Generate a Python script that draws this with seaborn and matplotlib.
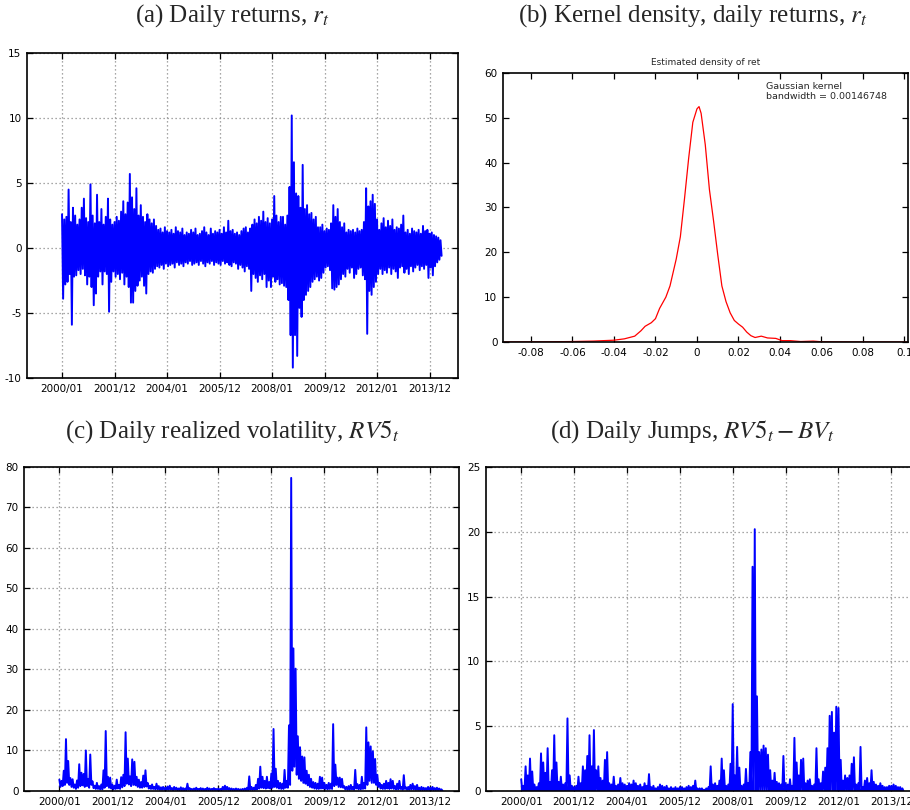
import numpy as np
import pandas as pd
import seaborn as sns
import matplotlib
matplotlib.use("Agg")
import matplotlib.pyplot as plt

# month index 0 = 2000/01 ... 173 = 2014/06 (monthly high / low)
tick_pos = [0, 24, 48, 72, 96, 120, 144, 168]
tick_labels = ["2000/01", "2001/12", "2004/01", "2005/12", "2008/01", "2009/12", "2012/01", "2013/12"]

ret_high = [2.6, 2.2, 2.4, 4.5, 2.0, 3.1, 2.5, 1.8, 2.2, 3.1,
            3.8, 2.3, 2.0, 4.9, 2.5, 1.9, 4.1, 2.0, 3.0, 1.8,
            2.4, 3.8, 2.2, 1.8, 2.0, 2.4, 2.1, 2.8, 3.6, 2.6,
            3.5, 5.7, 3.9, 3.0, 4.6, 2.5, 3.3, 2.4, 2.0, 2.6,
            2.2, 1.9, 2.2, 1.7, 1.4, 1.5, 1.2, 1.6, 1.3, 1.2,
            1.4, 1.1, 1.6, 1.3, 1.2, 1.5, 1.0, 1.2, 1.1, 1.4,
            1.2, 1.5, 1.0, 1.1, 1.3, 1.6, 1.2, 1.0, 1.5, 1.1,
            1.3, 1.2, 1.4, 1.1, 1.6, 1.2, 2.1, 1.3, 1.4, 1.1,
            1.2, 1.0, 1.3, 1.5, 1.6, 1.2, 1.5, 1.8, 2.2, 1.9,
            2.4, 2.1, 2.8, 2.0, 2.3, 1.9, 2.2, 4.0, 2.5, 2.0,
            2.4, 2.4, 1.8, 2.5, 4.7, 10.2, 6.6, 4.2, 4.0, 3.1,
            6.4, 3.0, 3.3, 2.6, 2.7, 2.2, 2.4, 1.6, 1.6, 1.8,
            1.3, 1.5, 1.4, 1.9, 3.3, 2.4, 3.0, 2.0, 1.6, 1.9,
            1.2, 1.4, 1.3, 1.4, 1.2, 1.5, 1.3, 1.4, 2.0, 4.6,
            3.2, 3.6, 4.1, 3.4, 2.2, 1.4, 1.9, 2.3, 1.6, 2.1,
            1.7, 2.2, 1.4, 1.6, 1.5, 1.8, 2.5, 1.2, 1.4, 1.1,
            1.5, 1.3, 1.2, 1.4, 1.1, 1.7, 1.3, 1.4, 1.1, 1.2,
            1.0, 0.9, 0.8, 0.6]
ret_low = [-3.9, -2.8, -2.6, -2.0, -5.9, -2.2, -2.1, -1.7, -2.0, -1.6,
           -2.1, -2.8, -2.2, -3.0, -4.4, -3.5, -2.2, -1.8, -2.8, -1.8,
           -2.0, -4.9, -2.6, -1.8, -2.2, -2.0, -2.4, -1.9, -2.8, -2.2,
           -3.0, -4.2, -4.2, -3.3, -2.9, -2.5, -2.2, -2.9, -3.5, -2.0,
           -1.8, -1.9, -1.6, -1.4, -1.5, -1.3, -1.6, -1.2, -1.4, -1.3,
           -1.2, -1.5, -1.1, -1.3, -1.2, -1.4, -1.1, -1.2, -1.0, -1.3,
           -1.2, -1.1, -1.3, -1.0, -1.2, -1.4, -1.1, -1.2, -1.0, -1.3,
           -1.1, -1.2, -1.3, -1.0, -1.2, -1.1, -1.3, -1.4, -1.1, -1.2,
           -1.6, -1.3, -1.5, -1.8, -1.4, -1.6, -3.3, -2.0, -2.3, -2.6,
           -2.1, -2.4, -2.0, -3.0, -2.5, -3.0, -2.2, -2.6, -2.4, -2.8,
           -2.7, -2.9, -3.0, -4.0, -6.7, -9.2, -6.7, -8.3, -4.6, -5.3,
           -4.0, -3.6, -3.3, -3.0, -2.6, -2.4, -2.2, -2.5, -2.3, -1.9,
           -1.5, -1.4, -1.7, -3.1, -3.2, -3.0, -2.8, -2.4, -2.0, -2.2,
           -1.6, -1.9, -1.5, -2.3, -2.0, -1.6, -1.5, -2.1, -2.4, -6.6,
           -3.3, -3.6, -3.0, -2.6, -2.0, -1.6, -2.0, -1.7, -1.9, -1.5,
           -2.0, -1.6, -1.8, -2.3, -1.5, -1.4, -1.9, -1.6, -2.0, -1.4,
           -1.8, -1.5, -1.3, -1.7, -1.4, -1.6, -1.3, -2.3, -1.5, -2.1,
           -1.4, -1.1, -0.9, -0.6]

rv_high = [2.8, 2.5, 5.0, 12.8, 7.4, 3.2, 2.9, 1.6, 2.6, 6.6,
           4.5, 4.2, 10.0, 3.0, 9.0, 2.4, 1.3, 2.0, 1.2, 1.6,
           5.1, 14.8, 3.5, 3.3, 1.6, 1.3, 2.8, 1.5, 3.4, 4.0,
           14.5, 8.0, 3.6, 7.8, 7.2, 3.5, 2.8, 2.2, 3.8, 5.1,
           2.0, 1.3, 1.6, 1.0, 1.8, 1.2, 0.9, 1.0, 0.8, 1.1,
           1.3, 0.7, 1.0, 0.8, 0.6, 0.9, 0.7, 0.6, 1.8, 0.7,
           0.5, 0.6, 0.8, 0.5, 0.7, 0.6, 0.5, 0.8, 0.6, 0.5,
           0.7, 0.5, 0.6, 0.5, 1.0, 1.3, 1.0, 0.7, 0.6, 0.5,
           0.6, 0.5, 0.4, 0.5, 0.6, 0.8, 3.6, 1.0, 0.8, 1.5,
           3.0, 6.0, 3.5, 2.5, 3.5, 2.2, 4.3, 15.3, 5.5, 2.5,
           2.0, 1.8, 5.2, 2.5, 16.2, 77.3, 35.2, 30.2, 13.5, 10.8,
           8.5, 8.3, 5.0, 4.0, 3.0, 2.2, 2.0, 1.8, 3.5, 3.3,
           2.0, 1.5, 2.0, 1.8, 16.5, 6.5, 3.3, 3.3, 3.0, 1.2,
           1.0, 1.2, 1.5, 1.0, 5.2, 1.7, 1.5, 3.5, 2.0, 15.7,
           12.0, 11.0, 9.8, 7.9, 4.0, 2.0, 1.5, 1.8, 2.5, 2.0,
           2.9, 2.5, 1.2, 1.8, 2.5, 1.0, 3.9, 0.9, 1.0, 1.5,
           1.8, 1.2, 1.5, 0.8, 1.0, 0.8, 0.7, 1.0, 0.8, 1.0,
           0.7, 0.8, 0.6, 0.4]
rv_low = [1.0, 1.2, 1.5, 2.0, 1.5, 1.0, 0.8, 0.5, 0.8, 1.2,
          1.4, 1.0, 1.2, 0.8, 1.5, 0.7, 0.5, 0.5, 0.4, 0.4,
          0.8, 1.2, 0.8, 0.6, 0.4, 0.5, 0.6, 0.5, 0.9, 1.2,
          1.8, 1.6, 1.2, 1.5, 1.4, 1.0, 0.8, 0.8, 1.0, 1.1,
          0.6, 0.5, 0.5, 0.4, 0.4, 0.3, 0.3, 0.3, 0.3, 0.3,
          0.3, 0.2, 0.3, 0.2, 0.2, 0.2, 0.2, 0.2, 0.3, 0.2,
          0.2, 0.2, 0.2, 0.2, 0.2, 0.2, 0.2, 0.2, 0.2, 0.2,
          0.2, 0.2, 0.2, 0.2, 0.3, 0.3, 0.3, 0.2, 0.2, 0.2,
          0.2, 0.2, 0.2, 0.2, 0.2, 0.2, 0.3, 0.3, 0.3, 0.4,
          0.6, 0.8, 0.7, 0.6, 0.7, 0.6, 0.8, 1.0, 0.8, 0.6,
          0.5, 0.5, 0.8, 0.8, 1.5, 5.0, 6.0, 4.0, 3.0, 2.5,
          2.0, 1.8, 1.4, 1.0, 0.8, 0.6, 0.5, 0.5, 0.6, 0.6,
          0.5, 0.4, 0.5, 0.5, 1.2, 1.5, 1.0, 0.9, 0.8, 0.4,
          0.3, 0.3, 0.4, 0.3, 0.6, 0.4, 0.4, 0.5, 0.6, 1.5,
          2.5, 2.0, 2.0, 1.5, 1.0, 0.6, 0.5, 0.5, 0.6, 0.5,
          0.6, 0.5, 0.4, 0.4, 0.5, 0.3, 0.5, 0.3, 0.3, 0.4,
          0.4, 0.3, 0.3, 0.2, 0.2, 0.2, 0.2, 0.2, 0.2, 0.2,
          0.2, 0.2, 0.2, 0.1]

jump_high = [0.9, 0.4, 1.9, 1.2, 2.5, 1.5, 0.5, 0.3, 0.6, 2.9,
             2.2, 1.4, 3.3, 0.7, 1.6, 4.3, 2.2, 0.7, 1.1, 0.5,
             0.6, 5.6, 1.2, 0.4, 0.3, 0.4, 1.1, 0.6, 1.9, 1.6,
             2.7, 4.3, 1.9, 4.7, 1.6, 1.9, 1.0, 0.8, 2.4, 3.0,
             0.6, 0.5, 1.1, 0.4, 0.5, 1.0, 0.6, 0.5, 0.4, 0.6,
             0.5, 0.8, 0.6, 0.4, 0.5, 0.3, 0.6, 0.4, 1.3, 0.3,
             0.4, 0.2, 0.3, 0.5, 0.4, 0.3, 0.4, 0.2, 0.3, 0.2,
             0.3, 0.2, 0.3, 0.3, 0.2, 0.3, 0.4, 0.3, 0.4, 0.8,
             0.2, 0.2, 0.2, 0.1, 0.2, 0.3, 1.9, 0.5, 0.6, 0.4,
             0.8, 2.5, 1.6, 0.4, 0.5, 2.1, 6.7, 1.2, 3.4, 1.8,
             0.4, 0.5, 1.7, 0.6, 3.0, 17.3, 20.2, 7.3, 3.0, 3.2,
             3.5, 3.3, 2.8, 1.6, 0.8, 1.4, 0.7, 0.6, 0.5, 2.7,
             0.6, 0.5, 0.9, 0.4, 4.1, 2.2, 1.2, 2.4, 2.5, 0.6,
             0.8, 0.9, 0.4, 0.5, 3.3, 0.9, 0.6, 1.5, 1.8, 3.3,
             5.8, 6.1, 4.5, 6.5, 6.4, 2.4, 0.8, 1.2, 1.0, 1.2,
             2.1, 2.6, 0.5, 0.6, 3.4, 0.3, 0.8, 1.0, 0.6, 1.6,
             0.7, 0.5, 0.4, 0.6, 0.4, 0.3, 0.3, 0.4, 0.4, 0.5,
             0.4, 0.3, 0.3, 0.2]

kde_x = [-0.0935, -0.08, -0.07, -0.06, -0.05, -0.04, -0.035, -0.03, -0.027, -0.025,
         -0.022, -0.02, -0.018, -0.015, -0.013, -0.01, -0.008, -0.006, -0.004, -0.002,
         0.0, 0.001, 0.002, 0.004, 0.006, 0.008, 0.01, 0.012, 0.014, 0.016,
         0.018, 0.02, 0.022, 0.024, 0.026, 0.028, 0.031, 0.034, 0.038, 0.041,
         0.045, 0.05, 0.056, 0.06, 0.07, 0.08, 0.1017]
kde_y = [0.0, 0.02, 0.05, 0.1, 0.2, 0.4, 0.7, 1.3, 2.5, 3.5,
         4.3, 5.2, 7.5, 10.0, 12.5, 18.5, 23.5, 32.0, 41.0, 49.0,
         52.0, 52.5, 51.0, 44.0, 34.0, 27.0, 19.5, 12.5, 9.0, 6.5,
         4.8, 4.0, 3.3, 2.2, 1.4, 1.0, 1.3, 0.9, 0.8, 0.3,
         0.3, 0.1, 0.2, 0.05, 0.02, 0.0, 0.0]

sns.set_style("ticks")
plt.rcParams["font.family"] = ["DejaVu Sans"]
plt.rcParams["mathtext.fontset"] = "stix"
plt.rcParams["axes.unicode_minus"] = False

BLUE = "#0000ff"


def zigzag(high, low):
    # alternate each month's top and bottom so the band looks like daily data
    m = np.arange(len(high))
    x = np.ravel(np.column_stack([m, m + 0.5]))
    y = np.ravel(np.column_stack([high, low]))
    return pd.DataFrame({"t": x, "v": y})


def style(ax, grid=True):
    ax.tick_params(direction="in", length=4, width=0.9, labelsize=7.5,
                   top=True, right=True, pad=4, colors="black")
    for s in ax.spines.values():
        s.set_linewidth(1.2)
        s.set_color("black")
    if grid:
        ax.grid(True, linestyle=(0, (1, 2.2)), color="#8a8a8a", linewidth=0.9)
    ax.set_xlabel("")
    ax.set_ylabel("")


def time_axis(ax):
    ax.set_xticks(tick_pos)
    ax.set_xticklabels(tick_labels)
    ax.set_xlim(-16, 181)


fig = plt.figure(figsize=(9.1, 8.1), dpi=100)
title_kw = dict(ha="center", va="center", fontsize=18, family="Liberation Serif")
LW = 1.4

# (a) daily returns
ax = fig.add_axes([0.0297, 0.5333, 0.4736, 0.4012])
sns.lineplot(data=zigzag(ret_high, ret_low), x="t", y="v", ax=ax, color=BLUE,
             linewidth=LW, estimator=None, sort=False)
time_axis(ax)
ax.set_ylim(-10, 15)
ax.set_yticks([-10, -5, 0, 5, 10, 15])
style(ax)
fig.text(232 / 910, 1 - 16 / 810, r"(a) Daily returns, $r_t$", **title_kw)

# (b) kernel density
ax = fig.add_axes([0.5527, 0.5778, 0.4451, 0.3321])
sns.lineplot(x=kde_x, y=kde_y, ax=ax, color="#ff0000", linewidth=0.9,
             estimator=None, sort=False)
ax.set_xlim(-0.0935, 0.1017)
ax.set_ylim(0, 60)
ax.set_xticks([-0.08, -0.06, -0.04, -0.02, 0, 0.02, 0.04, 0.06, 0.08, 0.1])
ax.set_xticklabels(["-0.08", "-0.06", "-0.04", "-0.02", "0", "0.02", "0.04", "0.06", "0.08", "0.1"])
ax.set_yticks([0, 10, 20, 30, 40, 50, 60])
style(ax, grid=False)
ax.set_title("Estimated density of ret", fontsize=6.5, pad=6)
ax.text(0.65, 0.965, "Gaussian kernel\nbandwidth = 0.00146748", transform=ax.transAxes,
        fontsize=6.8, va="top", ha="left", linespacing=1.1)
fig.text(693 / 910, 1 - 16 / 810, r"(b) Kernel density, daily returns, $r_t$", **title_kw)

# (c) realized volatility
ax = fig.add_axes([0.0264, 0.0235, 0.478, 0.4])
sns.lineplot(data=zigzag(rv_high, rv_low), x="t", y="v", ax=ax, color=BLUE,
             linewidth=LW, estimator=None, sort=False)
time_axis(ax)
ax.set_ylim(0, 80)
ax.set_yticks(range(0, 81, 10))
style(ax)
fig.text(232 / 910, 1 - 432 / 810, r"(c) Daily realized volatility, $RV5_t$", **title_kw)

# (d) jumps
ax = fig.add_axes([0.534, 0.0235, 0.477, 0.4])
sns.lineplot(data=zigzag(jump_high, np.zeros(len(jump_high))), x="t", y="v", ax=ax,
             color=BLUE, linewidth=LW, estimator=None, sort=False)
time_axis(ax)
ax.set_ylim(0, 25)
ax.set_yticks(range(0, 26, 5))
style(ax)
fig.text(693 / 910, 1 - 432 / 810, r"(d) Daily Jumps, $RV5_t - BV_t$", **title_kw)

fig.savefig("out.png", dpi=100)
